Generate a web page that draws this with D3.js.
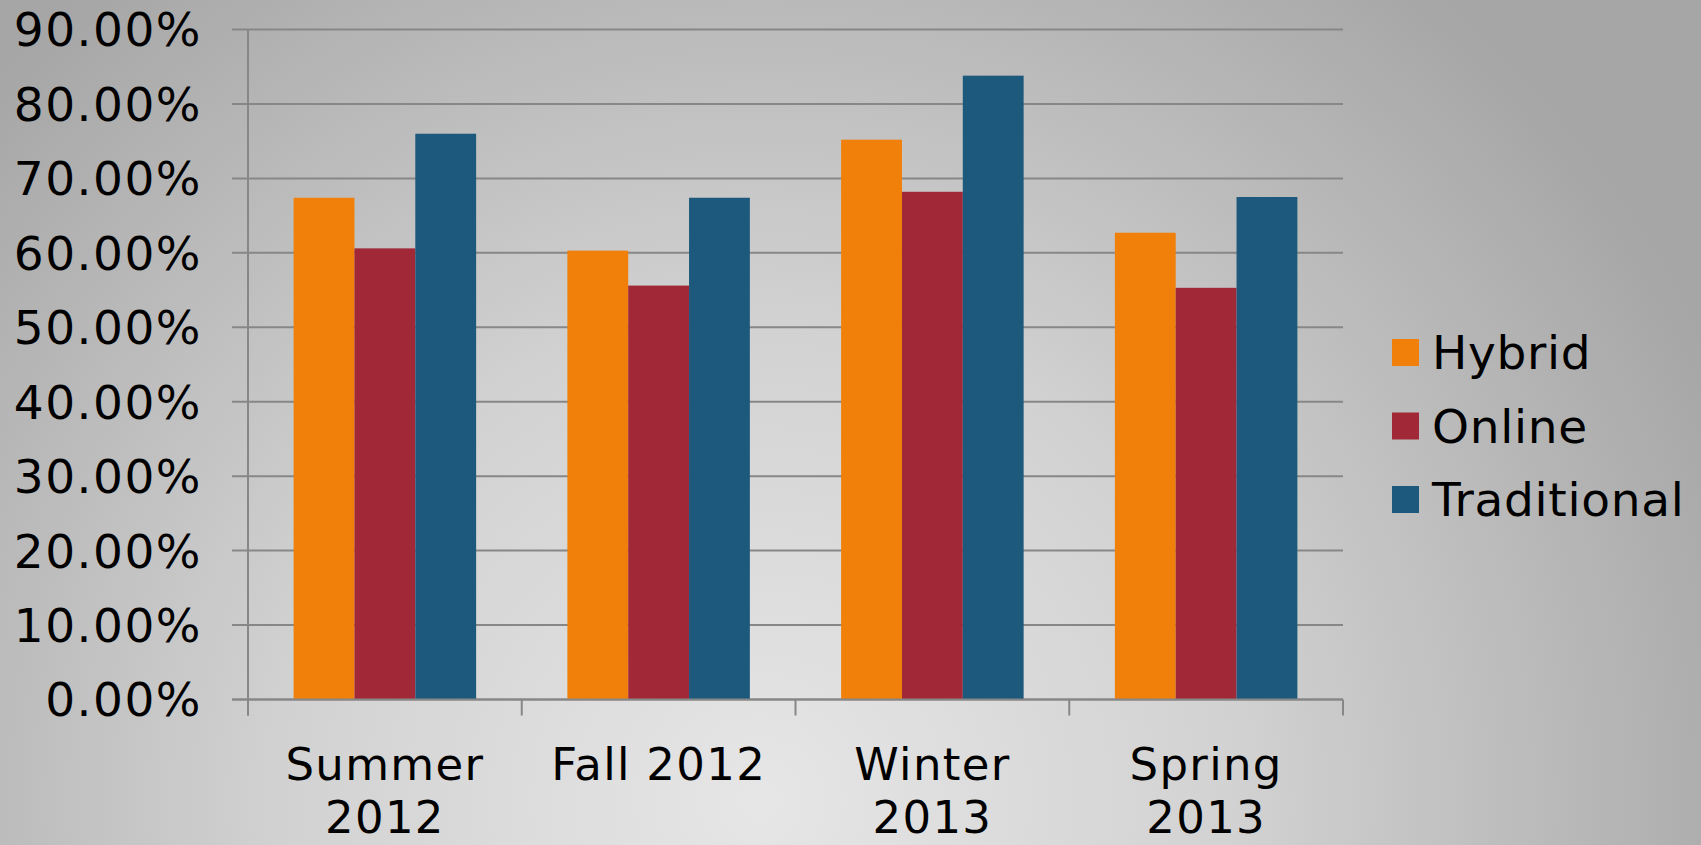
<!DOCTYPE html>
<html>
<head>
<meta charset="utf-8">
<script src="https://cdn.jsdelivr.net/npm/d3@7"></script>
<style>
  html, body { margin: 0; padding: 0; overflow: hidden; }
  svg { display: block; }
  text { font-family: "DejaVu Sans", Verdana, sans-serif; fill: #000; }
</style>
</head>
<body>
<svg id="chart" width="1701" height="845"></svg>
<script>
// ---- data ----
const categories = ["Summer 2012", "Fall 2012", "Winter 2013", "Spring 2013"];
const categoryLines = [["Summer", "2012"], ["Fall 2012"], ["Winter", "2013"], ["Spring", "2013"]];
const seriesNames = ["Hybrid", "Online", "Traditional"];
const hybrid = [67.4, 60.3, 75.2, 62.7];
const online = [60.6, 55.6, 68.2, 55.3];
const traditional = [76.0, 67.4, 83.8, 67.5];
const yTicks = [0, 10, 20, 30, 40, 50, 60, 70, 80, 90];
const colors = ["#F0800A", "#A02837", "#1D597C"];

const seriesValues = [hybrid, online, traditional];

const W = 1701, H = 845;
const margin = { left: 248, right: 1701 - 1343, top: 29.5, bottom: 845 - 699.5 };

const svg = d3.select("#chart");

// background gradient
const defs = svg.append("defs");
const grad = defs.append("radialGradient")
  .attr("id", "bg")
  .attr("gradientUnits", "userSpaceOnUse")
  .attr("cx", 760).attr("cy", 800).attr("r", 1050)
  .attr("fx", 760).attr("fy", 800);
grad.append("stop").attr("offset", "0%").attr("stop-color", "#e6e6e6");
grad.append("stop").attr("offset", "45%").attr("stop-color", "#d2d2d2");
grad.append("stop").attr("offset", "100%").attr("stop-color", "#a6a6a6");
svg.append("rect").attr("width", W).attr("height", H).attr("fill", "url(#bg)");

// scales
const x0 = d3.scaleBand().domain(categories).range([margin.left, W - margin.right]).padding(0);
const x1 = d3.scaleBand().domain(seriesNames).range([0, x0.bandwidth()]).paddingInner(0).paddingOuter(0.75);
const y = d3.scaleLinear().domain([0, 90]).range([H - margin.bottom, margin.top]);

// gridlines + y axis ticks
const gridG = svg.append("g");
gridG.selectAll("line").data(yTicks).join("line")
  .attr("x1", margin.left - 16).attr("x2", W - margin.right)
  .attr("y1", d => y(d)).attr("y2", d => y(d))
  .attr("stroke", "#878787").attr("stroke-width", 2);

// y axis labels
svg.append("g").selectAll("text").data(yTicks).join("text")
  .attr("x", 202).attr("y", d => y(d))
  .attr("dy", "0.36em")
  .attr("text-anchor", "end")
  .attr("font-size", 47)
  .attr("letter-spacing", 1.5)
  .text(d => d3.format(".2f")(d) + "%");

// bars
const groups = svg.append("g").selectAll("g").data(categories).join("g")
  .attr("transform", d => `translate(${x0(d)},0)`);
groups.selectAll("rect")
  .data((c, i) => seriesNames.map((s, j) => ({ s, v: seriesValues[j][i], j })))
  .join("rect")
  .attr("x", d => x1(d.s))
  .attr("width", x1.bandwidth())
  .attr("y", d => y(d.v))
  .attr("height", d => y(0) - y(d.v))
  .attr("fill", d => colors[d.j]);

// y axis line
svg.append("line")
  .attr("x1", margin.left).attr("x2", margin.left)
  .attr("y1", y(90)).attr("y2", y(0) + 16)
  .attr("stroke", "#878787").attr("stroke-width", 2);
// x axis line
svg.append("line")
  .attr("x1", margin.left - 16).attr("x2", W - margin.right)
  .attr("y1", y(0)).attr("y2", y(0))
  .attr("stroke", "#878787").attr("stroke-width", 2);
// x ticks at category boundaries
const boundaries = categories.map(c => x0(c)).concat([x0(categories[categories.length - 1]) + x0.bandwidth()]);
svg.append("g").selectAll("line").data(boundaries).join("line")
  .attr("x1", d => d).attr("x2", d => d)
  .attr("y1", y(0)).attr("y2", y(0) + 16)
  .attr("stroke", "#878787").attr("stroke-width", 2);

// x labels
const xl = svg.append("g").selectAll("text").data(categories).join("text")
  .attr("text-anchor", "middle")
  .attr("font-size", 45)
  .attr("letter-spacing", 1.3)
  .attr("transform", d => `translate(${x0(d) + x0.bandwidth() / 2},0)`);
xl.selectAll("tspan").data((d, i) => categoryLines[i]).join("tspan")
  .attr("x", 0)
  .attr("y", (d, i) => 780 + i * 53)
  .text(d => d);

// legend
const legend = svg.append("g").selectAll("g").data(seriesNames).join("g")
  .attr("transform", (d, i) => `translate(1392,${339 + i * 73.5})`);
legend.append("rect").attr("width", 27).attr("height", 27).attr("fill", (d, i) => colors[i]);
legend.append("text").attr("x", 40).attr("y", 30).attr("font-size", 47)
  .attr("letter-spacing", 0.7).text(d => d);
</script>
</body>
</html>
